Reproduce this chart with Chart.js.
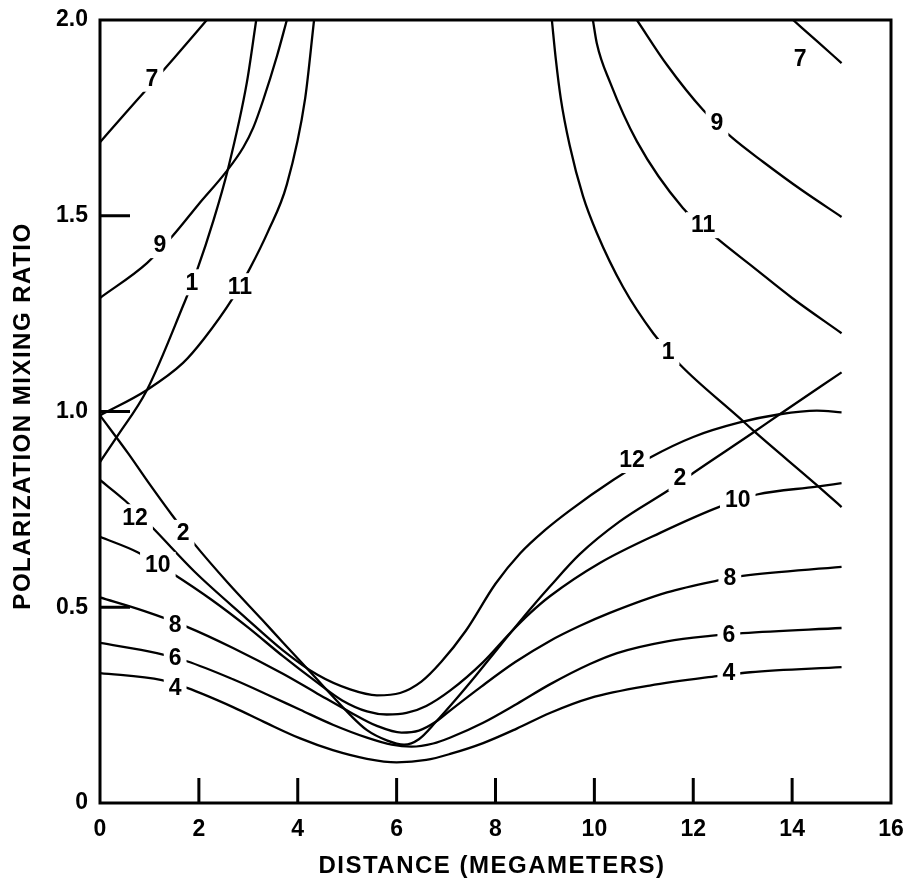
<!DOCTYPE html>
<html>
<head>
<meta charset="utf-8">
<script src="https://cdn.jsdelivr.net/npm/chart.js@4.4.1/dist/chart.umd.min.js"></script>
<style>
  html,body{margin:0;padding:0;background:#fff;}
  canvas{display:block;}
</style>
</head>
<body>
<canvas id="mixChart" width="910" height="888"></canvas>
<script>
/* Polarization mixing ratio vs distance, one curve per mode number */

// lower (U-shaped) family: [distance Mm, mixing ratio]
const mode4  = [[0,0.332],[1.25,0.314],[1.76,0.294],[2.69,0.245],[3.37,0.204],[4.05,0.165],[4.71,0.135],[5.40,0.113],[6.0,0.104],[6.6,0.11],[7.1,0.126],[7.75,0.153],[8.43,0.19],[9.10,0.23],[9.91,0.268],[11.12,0.30],[12.48,0.324],[13.15,0.334],[15.0,0.347]];
const mode6  = [[0,0.409],[1.15,0.383],[1.76,0.362],[2.69,0.316],[3.4,0.276],[4.05,0.238],[4.71,0.20],[5.40,0.167],[5.9,0.149],[6.3,0.144],[6.74,0.152],[7.1,0.168],[7.75,0.205],[8.43,0.253],[9.10,0.303],[9.91,0.355],[10.46,0.383],[11.47,0.413],[12.34,0.427],[13.0,0.434],[15.0,0.447]];
const mode8  = [[0,0.525],[0.9,0.49],[1.76,0.45],[2.69,0.396],[3.70,0.33],[4.39,0.28],[5.06,0.232],[5.6,0.197],[6.1,0.18],[6.45,0.185],[6.8,0.208],[7.1,0.238],[7.72,0.298],[8.4,0.36],[9.1,0.414],[9.7,0.452],[10.3,0.485],[11.47,0.538],[12.48,0.568],[13.0,0.58],[15.0,0.603]];
const mode10 = [[0,0.68],[0.77,0.64],[1.46,0.587],[2.27,0.518],[3.0,0.448],[3.70,0.375],[4.39,0.308],[4.9,0.262],[5.4,0.234],[5.8,0.226],[6.2,0.23],[6.6,0.248],[7.08,0.287],[7.75,0.36],[8.3,0.435],[8.70,0.485],[9.10,0.528],[10.11,0.613],[11.33,0.69],[12.54,0.757],[13.29,0.788],[14.5,0.808],[15.0,0.817]];
const mode12 = [[0,0.825],[0.51,0.772],[1.05,0.705],[1.92,0.59],[2.93,0.475],[3.70,0.39],[4.39,0.328],[5.06,0.29],[5.6,0.275],[6.07,0.281],[6.5,0.31],[6.9,0.36],[7.4,0.44],[8.0,0.56],[8.5,0.638],[9.0,0.697],[9.5,0.747],[10.38,0.825],[11.12,0.882],[12.0,0.935],[12.94,0.972],[13.75,0.993],[14.5,1.002],[15.0,0.998]];
const mode2  = [[0,0.99],[0.57,0.893],[1.0,0.815],[1.46,0.735],[1.92,0.66],[2.59,0.562],[3.28,0.468],[3.70,0.41],[4.39,0.316],[4.71,0.272],[5.06,0.225],[5.40,0.186],[5.8,0.16],[6.15,0.149],[6.45,0.163],[6.8,0.208],[7.2,0.265],[7.6,0.325],[8.1,0.403],[8.7,0.495],[9.1,0.553],[9.7,0.635],[10.5,0.718],[11.6,0.807],[12.0,0.843],[13.2,0.945],[13.75,0.993],[15.0,1.10]];

// upper family, left and right branches
const mode1Left   = [[0,0.871],[0.34,0.935],[0.95,1.055],[1.68,1.27],[1.96,1.36],[2.3,1.49],[2.59,1.62],[2.97,1.84],[3.16,2.0]];
const mode1Right  = [[9.14,2.0],[9.22,1.90],[9.32,1.80],[9.5,1.68],[9.77,1.55],[10.05,1.456],[10.58,1.318],[11.19,1.20],[11.73,1.12],[12.94,0.983],[13.2,0.953],[14.5,0.812],[15.0,0.756]];
const mode7Left   = [[0,1.688],[0.5,1.76],[1.0,1.831],[1.5,1.903],[2.16,2.0]];
const mode7Right  = [[14.02,2.0],[14.52,1.944],[15.0,1.89]];
const mode9Left   = [[0,1.29],[0.95,1.379],[1.48,1.45],[2.0,1.53],[2.55,1.612],[2.9,1.675],[3.1,1.725],[3.3,1.795],[3.58,1.908],[3.78,2.0]];
const mode9Right  = [[10.86,2.0],[11.47,1.885],[12.2,1.77],[12.78,1.70],[13.41,1.638],[14.2,1.565],[15.0,1.497]];
const mode11Left  = [[0,0.99],[0.95,1.055],[1.68,1.124],[2.1,1.185],[2.69,1.29],[3.03,1.365],[3.4,1.46],[3.78,1.58],[4.15,1.80],[4.33,2.0]];
const mode11Right = [[9.97,2.0],[10.05,1.94],[10.32,1.84],[10.86,1.69],[11.79,1.52],[12.5,1.44],[13.2,1.37],[14.0,1.29],[15.0,1.20]];

// in-line curve labels
const labelText = ['7','9','1','11','12','2','10','8','6','4','7','9','11','1','12','2','10','8','6','4'];
const labelX = [1.05,1.21,1.86,2.83,0.71,1.68,1.17,1.52,1.52,1.52,14.16,12.48,12.2,11.49,10.76,11.73,12.9,12.74,12.72,12.72];
const labelY = [1.85,1.425,1.33,1.32,0.73,0.69,0.608,0.455,0.37,0.294,1.90,1.737,1.476,1.152,0.876,0.83,0.774,0.575,0.43,0.332];

const xTitle = 'DISTANCE (MEGAMETERS)';
const yTitle = 'POLARIZATION MIXING RATIO';

const curves = [mode4,mode6,mode8,mode10,mode12,mode2,mode1Left,mode1Right,mode7Left,mode7Right,mode9Left,mode9Right,mode11Left,mode11Right];

const FONT = '"Liberation Sans", Arial, sans-serif';

const overlay = {
  id: 'overlay',
  afterDatasetsDraw(chart) {
    const {ctx, chartArea: a, scales: {x, y}} = chart;
    ctx.save();
    // labels punch a white gap into the curve they name
    ctx.font = 'bold 23px ' + FONT;
    ctx.textAlign = 'center';
    ctx.textBaseline = 'middle';
    labelText.forEach((t, i) => {
      const px = x.getPixelForValue(labelX[i]);
      const py = y.getPixelForValue(labelY[i]);
      const w = ctx.measureText(t).width;
      ctx.fillStyle = '#fff';
      ctx.fillRect(px - w / 2 - 5, py - 13, w + 10, 26);
      ctx.fillStyle = '#000';
      ctx.fillText(t, px, py + 1);
    });
    // frame
    ctx.strokeStyle = '#000';
    ctx.lineWidth = 3;
    ctx.strokeRect(a.left, a.top, a.right - a.left, a.bottom - a.top);
    // tick marks point into the plot
    ctx.beginPath();
    x.ticks.forEach(t => {
      if (t.value <= x.min || t.value >= x.max) return;
      const px = x.getPixelForValue(t.value);
      ctx.moveTo(px, a.bottom);
      ctx.lineTo(px, a.bottom - 25);
    });
    y.ticks.forEach(t => {
      if (t.value <= y.min || t.value >= y.max) return;
      const py = y.getPixelForValue(t.value);
      ctx.moveTo(a.left, py);
      ctx.lineTo(a.left + 30, py);
    });
    ctx.stroke();
    ctx.restore();
  },
  afterDraw(chart) {
    const {ctx} = chart;
    ctx.save();
    ctx.fillStyle = '#000';
    ctx.font = 'bold 24px ' + FONT;
    ctx.letterSpacing = '1.5px';
    ctx.textAlign = 'center';
    ctx.textBaseline = 'middle';
    ctx.fillText(xTitle, 492, 866);
    ctx.translate(23, 416);
    ctx.rotate(-Math.PI / 2);
    ctx.fillText(yTitle, 0, 0);
    ctx.restore();
  }
};

new Chart(document.getElementById('mixChart'), {
  type: 'scatter',
  data: {
    datasets: curves.map(c => ({
      data: c.map(p => ({x: p[0], y: p[1]})),
      showLine: true,
      borderColor: '#000',
      borderWidth: 2.3,
      pointRadius: 0,
      cubicInterpolationMode: 'monotone',
      fill: false
    }))
  },
  options: {
    responsive: false,
    animation: false,
    devicePixelRatio: 1,
    layout: {padding: {top: 20, right: 19, left: 0, bottom: 0}},
    plugins: {legend: {display: false}, tooltip: {enabled: false}},
    scales: {
      x: {
        type: 'linear', min: 0, max: 16,
        grid: {display: false, drawTicks: false},
        border: {display: false},
        ticks: {stepSize: 2, padding: 13, color: '#000', font: {family: FONT, size: 23, weight: 'bold'}},
        afterFit(s) { s.height = 85; s.paddingLeft = 0; s.paddingRight = 0; }
      },
      y: {
        type: 'linear', min: 0, max: 2,
        grid: {display: false, drawTicks: false},
        border: {display: false},
        ticks: {
          stepSize: 0.5, padding: 12, color: '#000',
          font: {family: FONT, size: 23, weight: 'bold'},
          callback: v => v === 0 ? '0' : v.toFixed(1)
        },
        afterFit(s) { s.width = 100; s.paddingTop = 0; s.paddingBottom = 0; }
      }
    }
  },
  plugins: [overlay]
});
</script>
</body>
</html>
